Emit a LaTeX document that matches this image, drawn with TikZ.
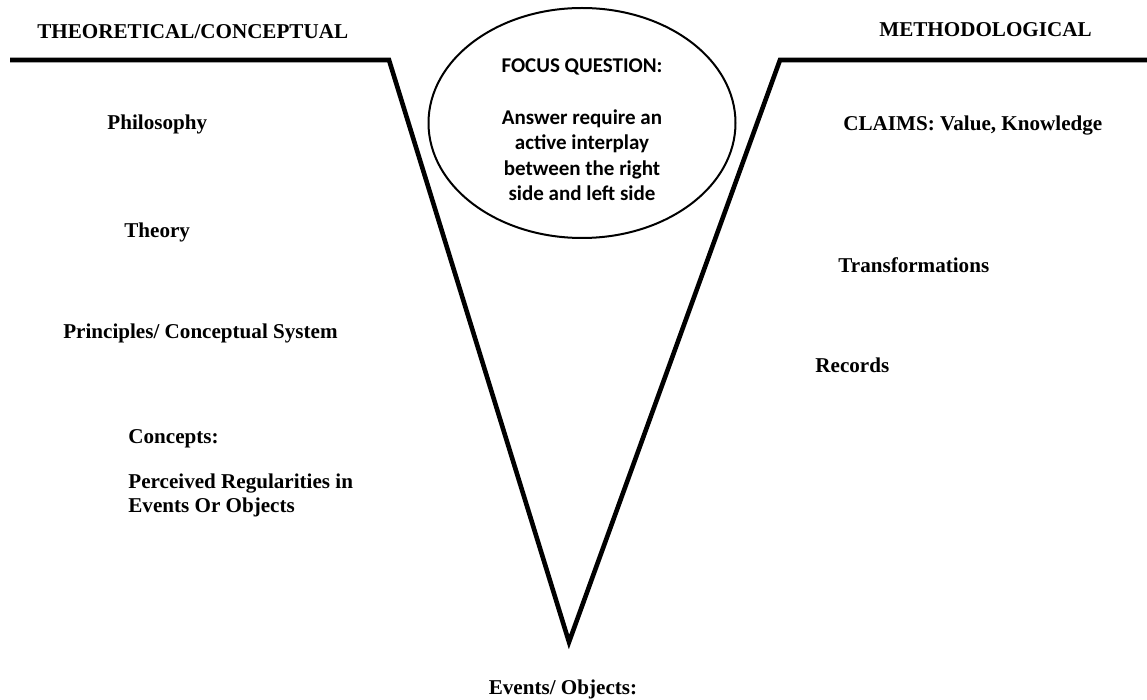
\documentclass[tikz,border=0pt]{standalone}
\usepackage{fontspec}
\setmainfont{Liberation Serif}
\newfontfamily\calibri{Carlito}
\usetikzlibrary{shapes.geometric}
\begin{document}
\begin{tikzpicture}[x=.5pt,y=-.5pt,
		lbl/.style={font=\fontsize{10.55}{12.9}\selectfont\bfseries, inner sep=0pt},
		vee/.style={line width=2.3pt}]
	\useasboundingbox (0,0) rectangle (1147,700);
	% the V
	\coordinate (lend) at (10,60);
	\coordinate (lcorner) at (389,60);
	\coordinate (tip) at (569,642);
	\coordinate (rcorner) at (780,60);
	\coordinate (rend) at (1147,60);
	\draw [vee] (lend) -- (lcorner) -- (tip) -- (rcorner) -- (rend);
	% focus question
	\node [draw, ellipse, line width=1pt, minimum width=153.5pt, minimum height=115pt, inner sep=0pt] (focus) at (582,123) {};
	\node [align=center, inner sep=0pt, font=\calibri\fontsize{10.5}{12.8}\selectfont\bfseries] (question) at (582,130) {FOCUS QUESTION:\\[12.8pt]Answer require an\\active interplay\\between the right\\side and left side};
	% left side
	\node [lbl, anchor=base west] (theo) at (37,39) {THEORETICAL/CONCEPTUAL};
	\node [lbl, anchor=base west] (philo) at (107,130) {Philosophy};
	\node [lbl, anchor=base west] (theory) at (124,238) {Theory};
	\node [lbl, anchor=base east] (princ) at (338,339) {Principles/ Conceptual System};
	\node [lbl, anchor=base west] (concepts) at (128,444) {Concepts:};
	\node [lbl, anchor=base west] (regular) at (128,488) {Perceived Regularities in};
	\node [lbl, anchor=base west] (evobj) at (128,512) {Events Or Objects};
	% right side
	\node [lbl, anchor=base west] (meth) at (879,37) {METHODOLOGICAL};
	\node [lbl, anchor=base west] (claims) at (843,131) {CLAIMS: Value, Knowledge};
	\node [lbl, anchor=base west] (transf) at (838,273) {Transformations};
	\node [lbl, anchor=base west] (records) at (815,373) {Records};
	% bottom
	\node [lbl, anchor=base] (events) at (563,694) {Events/ Objects:};
\end{tikzpicture}
\end{document}
